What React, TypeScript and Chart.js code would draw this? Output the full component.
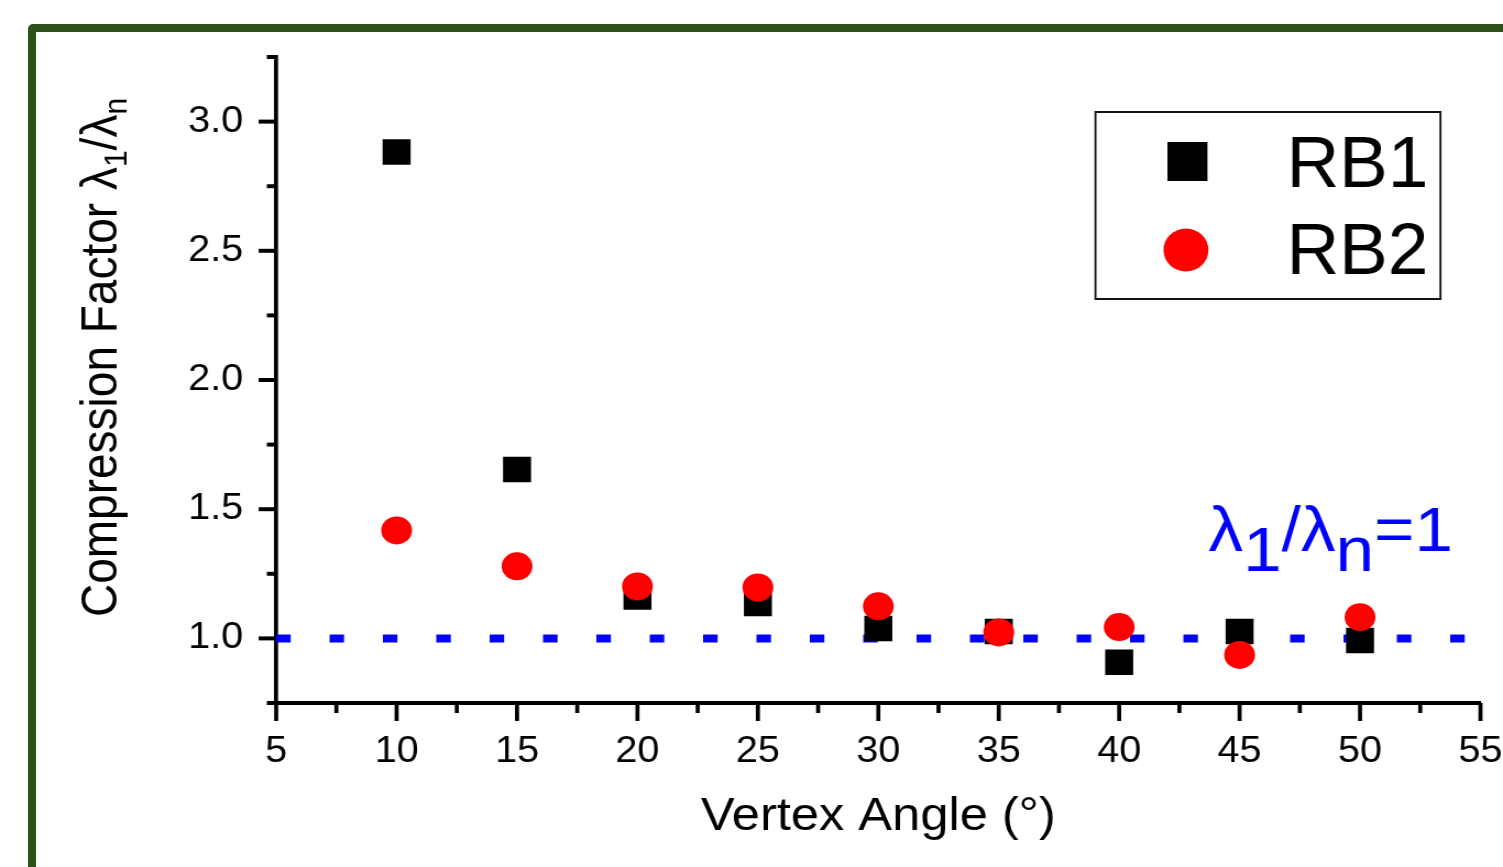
import React, { useEffect, useRef } from 'react';
import { Chart, registerables } from 'chart.js';

Chart.register(...registerables);

// ---- data ----
const angles = [10, 15, 20, 25, 30, 35, 40, 45, 50];
const rb1 = [2.882, 1.654, 1.16, 1.135, 1.038, 1.027, 0.908, 1.027, 0.992];
const rb2 = [1.418, 1.279, 1.201, 1.197, 1.124, 1.023, 1.044, 0.936, 1.082];
const refLineX = [5, 55];
const refLineY = [1, 1];
const xMajorTicks = [5, 10, 15, 20, 25, 30, 35, 40, 45, 50, 55];
const xMinorTicks = [7.5, 12.5, 17.5, 22.5, 27.5, 32.5, 37.5, 42.5, 47.5, 52.5];
const yMajorTicks = [1.0, 1.5, 2.0, 2.5, 3.0];
const yMinorTicks = [0.75, 1.25, 1.75, 2.25, 2.75, 3.25];
const yTitleParts: [string, boolean][] = [
  ['Compression Factor λ', false],
  ['1', true],
  ['/λ', false],
  ['n', true],
];
const annotationParts: [string, boolean][] = [
  ['λ', false],
  ['1', true],
  ['/λ', false],
  ['n', true],
  ['=1', false],
];
const annotationAt = { x: 43.7, y: 1.34 };

// ---- layout ----
const CANVAS_W = 1366;
const CANVAS_H = 867;
const DISPLAY_W = 1503;
const S = DISPLAY_W / CANVAS_W; // horizontal display stretch
const FONT = "Arial, 'Liberation Sans', Helvetica, sans-serif";

const axisTicksPlugin = {
  id: 'axisTicks',
  afterDraw(chart: any) {
    const { ctx, chartArea, scales } = chart;
    const xs = scales.x;
    const ys = scales.y;
    ctx.save();
    ctx.strokeStyle = '#000';
    ctx.lineCap = 'butt';
    ctx.lineWidth = 3.7;
    const drawX = (vals: number[], len: number) => {
      for (const v of vals) {
        const px = xs.getPixelForValue(v);
        ctx.beginPath();
        ctx.moveTo(px, chartArea.bottom);
        ctx.lineTo(px, chartArea.bottom + len);
        ctx.stroke();
      }
    };
    drawX(xMajorTicks, 18);
    drawX(xMinorTicks, 10);
    ctx.lineWidth = 4;
    const drawY = (vals: number[], len: number) => {
      for (const v of vals) {
        const py = ys.getPixelForValue(v);
        ctx.beginPath();
        ctx.moveTo(chartArea.left, py);
        ctx.lineTo(chartArea.left - len, py);
        ctx.stroke();
      }
    };
    drawY(yMajorTicks, 16);
    drawY(yMinorTicks, 8.5);
    ctx.restore();
  },
};

const drawParts = (ctx: any, parts: [string, boolean][], size: number, subSize: number, subShift: number) => {
  let cx = 0;
  for (const [text, sub] of parts) {
    ctx.font = `${sub ? subSize : size}px ${FONT}`;
    ctx.fillText(text, cx, sub ? subShift : 0);
    cx += ctx.measureText(text).width;
  }
};

const textPlugin = {
  id: 'textDecor',
  afterDraw(chart: any) {
    const { ctx, chartArea, scales } = chart;
    // rotated y-axis title
    ctx.save();
    ctx.fillStyle = '#000';
    ctx.textAlign = 'left';
    ctx.textBaseline = 'alphabetic';
    ctx.translate(105.5, 617);
    ctx.rotate(-Math.PI / 2);
    drawParts(ctx, yTitleParts, 46, 30, 9);
    ctx.restore();

    // reference-line annotation
    ctx.save();
    ctx.fillStyle = '#0000ff';
    ctx.textAlign = 'left';
    ctx.textBaseline = 'alphabetic';
    ctx.translate(scales.x.getPixelForValue(annotationAt.x), scales.y.getPixelForValue(annotationAt.y));
    drawParts(ctx, annotationParts, 63, 63, 20);
    ctx.restore();

    // legend box (drawn unstretched)
    const ds = chart.data.datasets;
    ctx.save();
    ctx.scale(1 / S, 1);
    const L = chartArea.right * S - 385;
    const T = chartArea.top + 55;
    ctx.lineWidth = 2;
    ctx.strokeStyle = '#111';
    ctx.strokeRect(L, T, 345, 187);
    ctx.fillStyle = ds[0].backgroundColor;
    ctx.fillRect(L + 72, T + 30, 40, 39);
    ctx.fillStyle = ds[1].backgroundColor;
    ctx.beginPath();
    ctx.ellipse(L + 90.5, T + 138, 22.5, 21.5, 0, 0, Math.PI * 2);
    ctx.fill();
    ctx.fillStyle = '#000';
    ctx.font = `73px ${FONT}`;
    ctx.textAlign = 'left';
    ctx.textBaseline = 'alphabetic';
    ctx.fillText(ds[0].label, L + 191, T + 75);
    ctx.fillText(ds[1].label, L + 191, T + 162);
    ctx.restore();
  },
};

export default function App() {
  const canvasRef = useRef<HTMLCanvasElement | null>(null);

  useEffect(() => {
    if (!canvasRef.current) return;
    const chart = new Chart(canvasRef.current, {
      type: 'scatter',
      data: {
        datasets: [
          {
            label: 'RB1',
            data: angles.map((a, i) => ({ x: a, y: rb1[i] })),
            pointStyle: 'rect',
            pointRadius: 18,
            pointHoverRadius: 18,
            backgroundColor: '#000000',
            borderColor: '#000000',
            borderWidth: 0,
            order: 1,
          },
          {
            label: 'RB2',
            data: angles.map((a, i) => ({ x: a, y: rb2[i] })),
            pointStyle: 'circle',
            pointRadius: 14,
            pointHoverRadius: 14,
            backgroundColor: '#ff0000',
            borderColor: '#ff0000',
            borderWidth: 0,
            order: 0,
          },
          {
            type: 'line',
            label: 'λ1/λn=1',
            data: refLineX.map((x, i) => ({ x, y: refLineY[i] })),
            borderColor: '#0000ff',
            borderWidth: 8,
            borderDash: [13.2, 35.3],
            borderCapStyle: 'butt',
            pointRadius: 0,
            fill: false,
            order: 2,
          } as any,
        ],
      },
      options: {
        responsive: false,
        animation: false,
        events: [],
        layout: { padding: { top: 57, right: 20.5, left: 0, bottom: 0 } },
        plugins: {
          legend: { display: false },
          tooltip: { enabled: false },
        },
        scales: {
          x: {
            type: 'linear',
            min: 5,
            max: 55,
            afterBuildTicks: (scale: any) => {
              scale.ticks = xMajorTicks.map((v) => ({ value: v }));
            },
            afterFit: (scale: any) => {
              scale.height = 164;
              scale.paddingLeft = 0;
              scale.paddingRight = 0;
            },
            grid: { display: false, drawTicks: false },
            border: { display: true, color: '#000', width: 4 },
            ticks: {
              color: '#000',
              padding: 27,
              maxRotation: 0,
              font: { family: FONT, size: 36 },
              callback: (v: any) => String(v),
            },
            title: {
              display: true,
              text: 'Vertex Angle (°)',
              color: '#000',
              font: { family: FONT, size: 46 },
              padding: { top: 0, bottom: 22 },
            },
          },
          y: {
            type: 'linear',
            min: 0.75,
            max: 3.25,
            afterBuildTicks: (scale: any) => {
              scale.ticks = yMajorTicks.map((v) => ({ value: v }));
            },
            afterFit: (scale: any) => {
              scale.width = 251;
              scale.paddingTop = 0;
              scale.paddingBottom = 0;
            },
            grid: { display: false, drawTicks: false },
            border: { display: true, color: '#000', width: 3.7 },
            ticks: {
              color: '#000',
              padding: 30,
              font: { family: FONT, size: 36 },
              callback: (v: any) => Number(v).toFixed(1),
            },
          },
        },
      },
      plugins: [axisTicksPlugin, textPlugin],
    });
    return () => chart.destroy();
  }, []);

  return (
    <div
      style={{
        position: 'fixed',
        left: 0,
        top: 0,
        width: DISPLAY_W,
        height: CANVAS_H,
        background: '#ffffff',
        overflow: 'hidden',
      }}
    >
      <div
        style={{
          position: 'absolute',
          left: 28,
          top: 24,
          width: 1600,
          height: 1000,
          border: '8px solid #2c5217',
          borderRadius: 5,
          boxSizing: 'border-box',
        }}
      />
      <canvas
        ref={canvasRef}
        width={CANVAS_W}
        height={CANVAS_H}
        style={{
          position: 'absolute',
          left: 0,
          top: 0,
          width: `${DISPLAY_W}px`,
          height: `${CANVAS_H}px`,
        }}
      />
    </div>
  );
}
